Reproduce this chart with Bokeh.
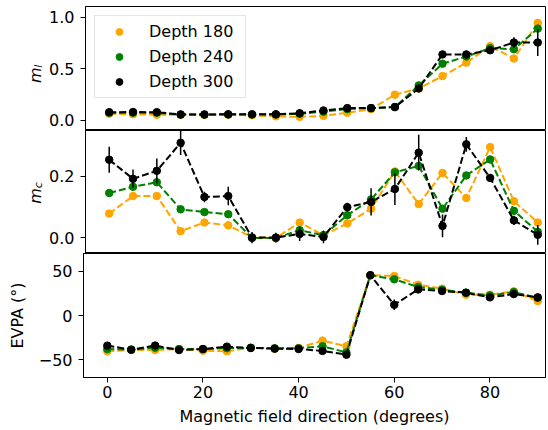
import math
from bokeh.plotting import figure
from bokeh.models import (ColumnDataSource, FixedTicker, CustomJSTickFormatter,
                          Legend, LegendItem, Range1d)
from bokeh.layouts import column, row
from bokeh.embed import file_html
from bokeh.resources import INLINE
from bokeh.core.properties import value

# ---------------- data ----------------
angles = [0, 5, 10, 15, 20, 25, 30, 35, 40, 45, 50, 55, 60, 65, 70, 75, 80, 85, 90]

ml_180 = [0.065, 0.06, 0.055, 0.055, 0.055, 0.055, 0.05, 0.04, 0.035, 0.045, 0.075, 0.11,
          0.25, 0.31, 0.43, 0.56, 0.72, 0.60, 0.945]
ml_240 = [0.075, 0.075, 0.075, 0.057, 0.057, 0.058, 0.058, 0.058, 0.065, 0.085, 0.11, 0.12,
          0.13, 0.34, 0.55, 0.62, 0.70, 0.69, 0.89]
ml_300 = [0.08, 0.082, 0.08, 0.058, 0.058, 0.06, 0.06, 0.06, 0.07, 0.097, 0.12, 0.12,
          0.13, 0.31, 0.64, 0.64, 0.68, 0.755, 0.755]
ml_300_err = [0.01, 0.01, 0.01, 0.008, 0.008, 0.008, 0.008, 0.008, 0.01, 0.015, 0.02, 0.015,
              0.015, 0.02, 0.02, 0.02, 0.02, 0.05, 0.13]

mc_180 = [0.079, 0.136, 0.136, 0.022, 0.05, 0.041, 0.002, 0.0, 0.05, 0.009, 0.047, 0.095,
          0.216, 0.11, 0.211, 0.13, 0.295, 0.119, 0.05]
mc_240 = [0.146, 0.166, 0.181, 0.093, 0.084, 0.077, 0.0, 0.0, 0.025, 0.009, 0.074, 0.125,
          0.213, 0.234, 0.095, 0.203, 0.255, 0.088, 0.02]
mc_300 = [0.254, 0.192, 0.218, 0.309, 0.133, 0.136, 0.001, 0.001, 0.013, 0.003, 0.10, 0.117,
          0.159, 0.277, 0.039, 0.304, 0.195, 0.057, 0.01]
mc_300_err = [0.042, 0.03, 0.04, 0.04, 0.017, 0.03, 0.018, 0.016, 0.023, 0.02, 0.014, 0.044,
              0.052, 0.058, 0.037, 0.024, 0.013, 0.015, 0.032]

evpa_180 = [-40.5, -39.0, -39.0, -38.0, -39.8, -40.5, -36.4, -37.5, -36.7, -28.4, -34.8, 45.5,
            44.7, 34.8, 30.3, 23.5, 23.5, 27.3, 16.3]
evpa_240 = [-38.0, -38.6, -36.4, -38.0, -38.0, -37.0, -36.5, -37.0, -37.0, -34.8, -41.7, 45.5,
            40.9, 32.2, 29.2, 25.8, 22.7, 26.5, 20.0]
evpa_300 = [-34.1, -38.6, -34.0, -39.0, -37.9, -35.2, -36.7, -37.5, -37.9, -40.0, -44.3, 45.5,
            12.1, 29.5, 27.7, 25.8, 20.5, 24.2, 20.5]
evpa_300_err = [1.5, 1.5, 1.5, 1.5, 1.5, 1.5, 1.5, 1.5, 1.5, 1.5, 1.5, 1.5,
                6.0, 2.0, 2.0, 1.5, 1.5, 1.5, 1.5]

series_labels = ["Depth 180", "Depth 240", "Depth 300"]
colors = ["#FFA500", "#008000", "#000000"]

x_ticks = [0, 20, 40, 60, 80]
ml_ticks = [0.0, 0.5, 1.0]
mc_ticks = [0.0, 0.2]
evpa_ticks = [-50, 0, 50]

ml_label = ("m", "l")
mc_label = ("m", "c")
evpa_label = "EVPA (°)"
x_label = "Magnetic field direction (degrees)"

# ---------------- layout/style ----------------
FONT = "DejaVu Sans"
X_START, X_END = -4.98, 91.63
TOTAL_W = 546
BORDER_L = 83          # frame left edge
BORDER_R = 1
LAB_W = 46             # width of the strip that holds the m_l / m_c labels

x_range = Range1d(X_START, X_END)


def style_axis(ax, standoff=6):
    ax.axis_line_color = "black"
    ax.axis_line_width = 1
    ax.major_tick_line_color = "black"
    ax.major_tick_line_width = 1
    ax.major_tick_out = 5
    ax.major_tick_in = 0
    ax.minor_tick_line_color = None
    ax.major_label_text_font = FONT
    ax.major_label_text_font_size = "16px"
    ax.major_label_text_color = "black"
    ax.major_label_standoff = standoff
    ax.axis_label_text_font = FONT
    ax.axis_label_text_font_size = "16px"
    ax.axis_label_text_font_style = "normal"
    ax.axis_label_text_color = "black"


def make_fig(width, border_l, height, yr, yticks, fmt_code, bottom=False, top_border=0):
    p = figure(width=width, height=height, x_range=x_range, y_range=Range1d(*yr),
               output_backend="svg", toolbar_location=None,
               x_axis_location="below" if bottom else None,
               min_border_left=border_l, min_border_right=BORDER_R,
               min_border_top=top_border, min_border_bottom=53 if bottom else 0)
    p.xgrid.visible = False
    p.ygrid.visible = False
    p.outline_line_color = "black"
    p.outline_line_width = 1
    p.outline_line_alpha = 1
    p.background_fill_color = "white"
    p.border_fill_color = "white"
    ya = p.yaxis[0]
    style_axis(ya, 6)
    ya.ticker = FixedTicker(ticks=yticks)
    ya.formatter = CustomJSTickFormatter(code=fmt_code)
    if bottom:
        xa = p.xaxis[0]
        style_axis(xa, 3)
        xa.ticker = FixedTicker(ticks=x_ticks)
        xa.axis_label = x_label
        xa.axis_label_standoff = 6
    return p


def label_strip(height, top_border, parts):
    """Narrow figure holding the rotated math-style label (italic m with subscript)."""
    lp = figure(width=LAB_W, height=height, x_range=Range1d(0, LAB_W),
                y_range=Range1d(height, 0), output_backend="svg", toolbar_location=None,
                x_axis_location=None, y_axis_location=None,
                min_border_left=0, min_border_right=0, min_border_top=0, min_border_bottom=0)
    lp.xgrid.visible = False
    lp.ygrid.visible = False
    lp.outline_line_color = None
    lp.background_fill_color = "white"
    lp.border_fill_color = "white"
    frame_h = height - top_border
    yc = top_border + frame_h / 2.0 + 4     # centre of the italic m (screen px from top)
    base_x = 35                              # baseline of the m (px from left)
    lp.text(x=[base_x], y=[yc], text=[parts[0]], angle=math.pi / 2,
            text_align="center", text_baseline="alphabetic",
            text_font=value(FONT), text_font_size="16px", text_font_style="italic",
            text_color="black")
    lp.text(x=[base_x + 2.5], y=[yc - 7.8], text=[parts[1]], angle=math.pi / 2,
            text_align="left", text_baseline="alphabetic",
            text_font=value(FONT), text_font_size="11px", text_font_style="italic",
            text_color="black")
    return lp


def draw(p, ys, color, err=None):
    src = ColumnDataSource(dict(x=angles, y=ys))
    if err is not None:
        esrc = ColumnDataSource(dict(x=angles,
                                     lo=[a - b for a, b in zip(ys, err)],
                                     hi=[a + b for a, b in zip(ys, err)]))
        p.segment(x0="x", y0="lo", x1="x", y1="hi", source=esrc,
                  line_color=color, line_width=1.5)
    p.line("x", "y", source=src, line_color=color, line_width=2, line_dash="7 3")
    return p.scatter("x", "y", source=src, size=7.5, color=color)


fmt1 = "return tick.toFixed(1);"
fmt0 = "return tick < 0 ? '\\u2212' + (-tick).toFixed(0) : tick.toFixed(0);"

ml_range = (-0.097, 1.104)
mc_range = (-0.0506, 0.349)
ev_range = (-70.1, 70.1)

H1, T1 = 130, 6
H2 = 123
H3 = 177

p1 = make_fig(TOTAL_W - LAB_W, BORDER_L - LAB_W, H1, ml_range, ml_ticks, fmt1, top_border=T1)
p2 = make_fig(TOTAL_W - LAB_W, BORDER_L - LAB_W, H2, mc_range, mc_ticks, fmt1)
p3 = make_fig(TOTAL_W, BORDER_L, H3, ev_range, evpa_ticks, fmt0, bottom=True)
p3.yaxis[0].axis_label = evpa_label
p3.yaxis[0].axis_label_standoff = 9

l1 = label_strip(H1, T1, ml_label)
l2 = label_strip(H2, 0, mc_label)

r1 = draw(p1, ml_180, colors[0])
r2 = draw(p1, ml_240, colors[1])
r3 = draw(p1, ml_300, colors[2], ml_300_err)

draw(p2, mc_180, colors[0])
draw(p2, mc_240, colors[1])
draw(p2, mc_300, colors[2], mc_300_err)

draw(p3, evpa_180, colors[0])
draw(p3, evpa_240, colors[1])
draw(p3, evpa_300, colors[2], evpa_300_err)

legend = Legend(items=[LegendItem(label=series_labels[0], renderers=[r1]),
                       LegendItem(label=series_labels[1], renderers=[r2]),
                       LegendItem(label=series_labels[2], renderers=[r3])],
                location="top_left")
legend.label_text_font = FONT
legend.label_text_font_size = "16px"
legend.label_text_color = "black"
legend.glyph_width = 36
legend.glyph_height = 17
legend.label_height = 19
legend.label_width = 90
legend.label_standoff = 12
legend.spacing = 6
legend.padding = 6
legend.margin = 9
legend.border_line_color = "#cccccc"
legend.border_line_width = 1
legend.background_fill_alpha = 0.8
p1.add_layout(legend)

layout = column(row(l1, p1, spacing=0), row(l2, p2, spacing=0), p3, spacing=0)

with open("out.html", "w", encoding="utf-8") as f:
    f.write(file_html(layout, INLINE))
